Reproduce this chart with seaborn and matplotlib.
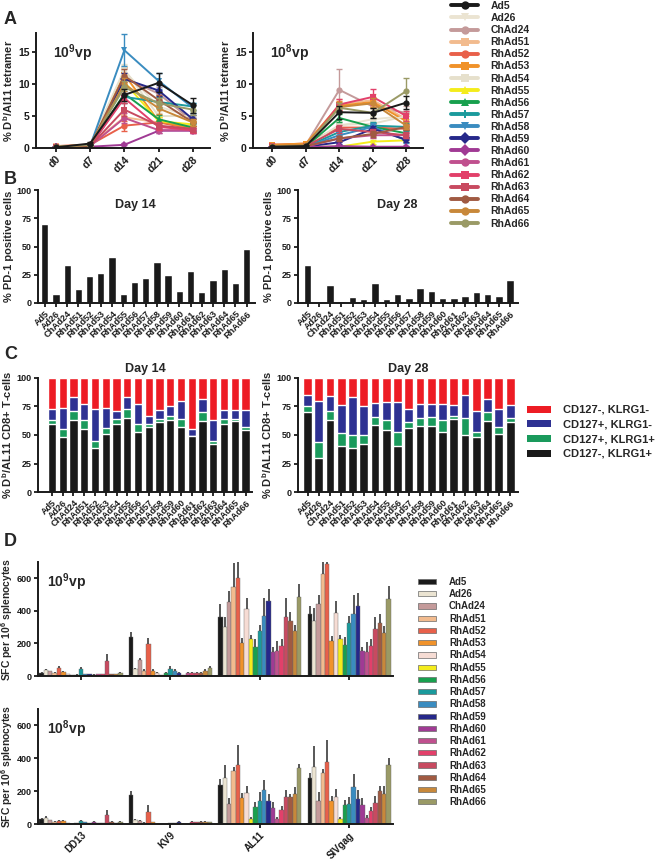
import numpy as np
import pandas as pd
import matplotlib
matplotlib.use("Agg")
import matplotlib.pyplot as plt
from matplotlib.lines import Line2D
from matplotlib.patches import Patch
import seaborn as sns

# ---------------- data ----------------
vectors = ["Ad5", "Ad26", "ChAd24", "RhAd51", "RhAd52", "RhAd53", "RhAd54", "RhAd55",
           "RhAd56", "RhAd57", "RhAd58", "RhAd59", "RhAd60", "RhAd61", "RhAd62",
           "RhAd63", "RhAd64", "RhAd65", "RhAd66"]
colors = ["#1a1a1a", "#ebe4d2", "#c49a9a", "#f2bb8e", "#e8604a", "#f0922a", "#e6e0cc",
          "#f4ec1c", "#18a04e", "#1a9a9c", "#3a8cc0", "#26288a", "#a03a94", "#c0508e",
          "#e2406a", "#c84a60", "#a05a42", "#c8883a", "#9a9a66"]
colors_d = list(colors)
colors_d[6] = "#f6dcd4"
markers = ["o", "v", "o", "s", "o", "s", "s", "^", "^", "P", "v", "D", "D", "o",
           "s", "s", "o", "o", "o"]
days = ["d0", "d7", "d14", "d21", "d28"]

# Panel A, 10^9 vp (% Db/Al11 tetramer), one list per day
hi_d0 = [0.1, 0.2, 0.2, 0.3, 0.3, 0.2, 0.2, 0.1, 0.1, 0.1, 0.1, 0.1, 0.1, 0.1, 0.1, 0.1, 0.1, 0.2, 0.2]
hi_d7 = [0.7, 0.5, 0.5, 0.5, 0.5, 0.5, 0.5, 0.3, 0.3, 0.3, 0.3, 0.3, 0.2, 0.3, 0.3, 0.3, 0.3, 0.5, 0.5]
hi_d14 = [8.3, 12.0, 11.0, 4.8, 3.5, 11.5, 12.3, 10.3, 8.5, 8.0, 15.3, 10.8, 0.5, 4.7, 7.8, 6.0, 11.3, 10.0, 9.5]
hi_d21 = [10.2, 6.5, 8.5, 4.0, 4.0, 4.2, 5.0, 4.2, 4.5, 7.2, 10.5, 9.0, 2.7, 2.8, 3.3, 3.5, 7.5, 6.2, 7.0]
hi_d28 = [6.7, 4.8, 4.2, 3.5, 3.0, 3.0, 5.0, 3.7, 3.2, 6.5, 6.3, 4.5, 2.7, 2.8, 2.8, 3.0, 4.0, 4.0, 6.0]
hi_e0 = [0.1, 0.1, 0.1, 0.1, 0.1, 0.1, 0.1, 0.1, 0.1, 0.1, 0.1, 0.1, 0.05, 0.05, 0.05, 0.05, 0.05, 0.1, 0.1]
hi_e7 = [0.2, 0.2, 0.2, 0.2, 0.2, 0.2, 0.2, 0.1, 0.1, 0.1, 0.1, 0.1, 0.05, 0.1, 0.1, 0.1, 0.1, 0.2, 0.2]
hi_e14 = [1.0, 1.0, 1.5, 1.0, 0.8, 1.2, 0.8, 1.0, 1.0, 1.0, 2.5, 1.0, 0.3, 0.8, 0.8, 1.0, 1.0, 1.0, 1.0]
hi_e21 = [1.5, 1.0, 1.0, 0.6, 0.6, 0.6, 0.8, 0.6, 0.6, 0.8, 1.3, 0.8, 0.4, 0.4, 0.5, 0.5, 0.8, 0.8, 0.8]
hi_e28 = [1.2, 0.8, 0.7, 0.5, 0.5, 0.5, 0.8, 0.5, 0.5, 0.6, 0.8, 0.6, 0.4, 0.4, 0.4, 0.5, 0.6, 0.6, 0.8]

# Panel A, 10^8 vp
lo_d0 = [0.2, 0.3, 0.5, 0.5, 0.5, 0.5, 0.3, 0.1, 0.1, 0.1, 0.1, 0.1, 0.1, 0.1, 0.3, 0.2, 0.2, 0.3, 0.2]
lo_d7 = [0.3, 0.3, 0.5, 0.5, 0.7, 0.7, 0.3, 0.2, 0.2, 0.2, 0.2, 0.2, 0.1, 0.2, 0.3, 0.3, 0.3, 0.5, 0.3]
lo_d14 = [5.6, 3.5, 9.1, 6.8, 3.2, 6.6, 3.6, 0.2, 4.7, 2.5, 2.0, 0.9, 0.3, 1.5, 6.8, 3.0, 1.5, 6.4, 6.3]
lo_d21 = [5.5, 4.5, 6.5, 7.5, 3.2, 7.2, 3.8, 1.0, 3.3, 3.5, 3.3, 3.0, 0.2, 2.0, 8.0, 2.5, 2.2, 7.0, 5.5]
lo_d28 = [7.1, 5.0, 5.5, 4.5, 3.0, 4.2, 5.0, 1.2, 2.3, 3.3, 1.2, 1.3, 0.2, 2.0, 5.0, 2.0, 3.3, 3.5, 8.9]
lo_e0 = [0.1, 0.1, 0.1, 0.1, 0.1, 0.1, 0.1, 0.05, 0.05, 0.05, 0.05, 0.05, 0.05, 0.05, 0.1, 0.1, 0.1, 0.1, 0.1]
lo_e7 = [0.1, 0.1, 0.2, 0.2, 0.2, 0.2, 0.1, 0.1, 0.1, 0.1, 0.1, 0.1, 0.05, 0.1, 0.1, 0.1, 0.1, 0.2, 0.1]
lo_e14 = [1.0, 0.6, 3.2, 0.8, 0.6, 0.8, 0.6, 0.1, 0.6, 0.5, 0.5, 0.3, 0.1, 0.4, 0.8, 0.6, 0.4, 0.8, 0.8]
lo_e21 = [0.8, 0.6, 1.0, 1.0, 0.6, 0.8, 0.6, 0.3, 0.6, 0.6, 0.6, 0.5, 0.1, 0.4, 1.2, 0.5, 0.4, 0.8, 0.8]
lo_e28 = [1.0, 0.8, 1.0, 0.8, 0.6, 0.8, 0.8, 0.3, 0.5, 0.6, 0.4, 0.4, 0.1, 0.4, 0.8, 0.5, 0.5, 0.6, 2.0]

# Panel B: % PD-1 positive cells
pd1_d14 = [70, 8, 34, 12, 24, 26.5, 40.5, 7.6, 19, 22, 36.5, 25, 10.5, 28, 9.7, 20.5, 30.5, 18, 48]
pd1_d28 = [34, 1, 15.5, 1.5, 5.5, 3.8, 18, 3.8, 8, 4, 13.5, 10.5, 4.7, 4, 6, 9.6, 8, 6.4, 20]

# Panel C: phenotype segments (%)
blk_d14 = [60, 48, 63, 55, 39, 51, 60, 65, 53, 57, 61, 63, 57, 49, 62, 42, 60, 62, 54]
grn_d14 = [3, 7, 8, 8, 6, 5, 4, 8, 7, 3, 3, 4, 7, 0.5, 8, 3, 4, 2, 3]
blu_d14 = [10, 19, 12, 14, 28, 18, 7, 10, 17, 7, 8, 8, 16, 6, 12, 18, 8, 8, 15]
red_d14 = [27, 26, 17, 23, 27, 26, 29, 17, 23, 33, 28, 25, 20, 44.5, 18, 37, 28, 28, 28]
blk_d28 = [70, 30, 63, 40, 39, 42, 59, 54, 40, 56, 58, 58, 53, 64, 50, 48, 62, 51, 61]
grn_d28 = [5, 14, 8, 12, 11, 8, 7, 9, 13, 5, 7, 8, 10, 3, 15, 5, 8, 6, 4]
blu_d28 = [10, 36, 13, 24, 33, 25, 12, 16, 26, 12, 12, 11, 14, 9, 20, 18, 12, 16, 11]
red_d28 = [15, 20, 16, 24, 17, 25, 22, 21, 21, 27, 23, 23, 23, 24, 15, 29, 18, 27, 24]
pheno_labels = ["CD127-, KLRG1-", "CD127+, KLRG1-", "CD127+, KLRG1+", "CD127-, KLRG1+"]
pheno_colors = ["#ed1c24", "#2e3192", "#1a9a5c", "#1a1a1a"]

# Panel D: SFC per 10^6 splenocytes
antigens = ["DD13", "KV9", "AL11", "SIVgag"]
hi_DD13 = [20, 38, 28, 20, 48, 25, 12, 5, 8, 45, 10, 10, 8, 12, 10, 95, 12, 12, 18]
hi_KV9 = [238, 42, 100, 30, 195, 32, 18, 5, 20, 45, 32, 20, 5, 18, 18, 20, 20, 30, 48]
hi_AL11 = [365, 300, 455, 545, 600, 205, 410, 225, 180, 278, 368, 462, 148, 155, 182, 362, 335, 278, 485]
hi_SIV = [378, 340, 440, 628, 690, 215, 385, 225, 188, 325, 378, 428, 152, 150, 185, 290, 325, 265, 475]
hi_DD13_e = [5, 8, 5, 5, 12, 5, 3, 2, 3, 10, 3, 3, 3, 3, 3, 40, 3, 3, 5]
hi_KV9_e = [35, 10, 12, 10, 40, 8, 5, 2, 5, 15, 8, 5, 2, 5, 5, 5, 5, 10, 15]
hi_AL11_e = [80, 60, 70, 150, 120, 30, 70, 25, 50, 35, 110, 75, 30, 60, 45, 120, 60, 35, 80]
hi_SIV_e = [50, 80, 60, 80, 30, 30, 75, 25, 50, 45, 120, 80, 25, 60, 40, 70, 55, 40, 80]
lo_DD13 = [30, 38, 22, 15, 20, 18, 5, 2, 5, 18, 10, 5, 12, 5, 5, 55, 15, 5, 15]
lo_KV9 = [175, 25, 18, 8, 75, 12, 2, 2, 2, 5, 5, 15, 2, 2, 15, 12, 15, 15, 12]
lo_AL11 = [238, 280, 120, 322, 358, 160, 190, 30, 105, 140, 205, 140, 98, 30, 85, 162, 165, 185, 338]
lo_SIV = [278, 348, 142, 310, 375, 140, 165, 32, 115, 122, 228, 155, 118, 35, 78, 128, 200, 185, 362]
lo_DD13_e = [5, 12, 5, 3, 5, 5, 2, 1, 2, 5, 3, 2, 5, 2, 2, 30, 5, 2, 5]
lo_KV9_e = [25, 8, 5, 3, 40, 3, 1, 1, 1, 2, 2, 5, 1, 1, 5, 3, 3, 3, 3]
lo_AL11_e = [35, 80, 40, 25, 125, 30, 40, 10, 30, 55, 65, 45, 35, 15, 25, 45, 20, 40, 30]
lo_SIV_e = [30, 125, 50, 25, 135, 30, 50, 12, 30, 45, 75, 55, 40, 20, 25, 40, 30, 45, 40]

# ---------------- style ----------------
sns.set_style("ticks")
plt.rcParams["font.family"] = ["Liberation Sans", "DejaVu Sans"]
plt.rcParams["font.weight"] = "bold"
plt.rcParams["axes.labelweight"] = "bold"
plt.rcParams["mathtext.fontset"] = "custom"
plt.rcParams["mathtext.bf"] = "Liberation Sans:bold"
plt.rcParams["mathtext.rm"] = "Liberation Sans:bold"
plt.rcParams["mathtext.default"] = "bf"

W, H = 660, 861
fig = plt.figure(figsize=(6.6, 8.61), dpi=100)


def ax_px(x0, x1, y0, y1):
    return fig.add_axes([x0 / W, 1 - y1 / H, (x1 - x0) / W, (y1 - y0) / H])


def style(ax, lsize=7):
    for s in ["top", "right"]:
        ax.spines[s].set_visible(False)
    for s in ["left", "bottom"]:
        ax.spines[s].set_linewidth(1.4)
        ax.spines[s].set_color("#1a1a1a")
    ax.tick_params(width=1.3, length=3, labelsize=lsize, colors="#1a1a1a", pad=1.5)
    for t in ax.get_xticklabels() + ax.get_yticklabels():
        t.set_fontweight("bold")


# ---------------- Panel A ----------------
def panel_a(ax, vals, errs, label):
    order = list(range(1, len(vectors))) + [0]
    pos = np.arange(len(days))
    for i in order:
        y = [v[i] for v in vals]
        e = [v[i] for v in errs]
        z = 5 if i == 0 else 2
        ax.errorbar(pos, y, yerr=e, fmt="none", ecolor=colors[i], elinewidth=1.0,
                    capsize=2, capthick=1.0, zorder=z)
        sns.lineplot(x=pos, y=y, color=colors[i], marker=markers[i], markersize=4.5,
                     markeredgewidth=0, linewidth=1.4, ax=ax, zorder=z)
    ax.set_xlim(-0.58, 4.5)
    ax.set_ylim(0, 18)
    ax.set_yticks([0, 5, 10, 15])
    ax.set_xticks(pos)
    ax.set_xticklabels(days, rotation=45, ha="right", rotation_mode="anchor")
    ax.set_ylabel("% D$^b$/Al11 tetramer", fontsize=8, labelpad=2)
    ax.text(0.1, 0.92, label, transform=ax.transAxes, fontsize=10, fontweight="bold",
            va="top")
    style(ax, 7.5)


axA1 = ax_px(36, 210, 33, 148)
panel_a(axA1, [hi_d0, hi_d7, hi_d14, hi_d21, hi_d28],
        [hi_e0, hi_e7, hi_e14, hi_e21, hi_e28], "10$^9$vp")
axA2 = ax_px(253, 423, 33, 148)
panel_a(axA2, [lo_d0, lo_d7, lo_d14, lo_d21, lo_d28],
        [lo_e0, lo_e7, lo_e14, lo_e21, lo_e28], "10$^8$vp")

handlesA = [Line2D([0], [0], color=c, marker=m, lw=2.8, markersize=6, markeredgewidth=0)
            for c, m in zip(colors, markers)]
fig.legend(handlesA, vectors, loc="upper left", bbox_to_anchor=(450 / W, 1 - 0 / H),
           frameon=False, fontsize=7.5, handlelength=2.6, labelspacing=0.2,
           handletextpad=1.2, borderaxespad=0, borderpad=0.1)

# ---------------- Panel B ----------------
def panel_b(ax, vals, title, xl):
    sns.barplot(x=vectors, y=vals, color="#1a1a1a", saturation=1, width=0.65, ax=ax)
    ax.set_xlim(*xl)
    ax.set_ylim(0, 100)
    ax.set_yticks([0, 25, 50, 75, 100])
    ax.set_xticks(range(len(vectors)))
    ax.set_xticklabels(vectors, rotation=45, ha="right", rotation_mode="anchor")
    ax.set_ylabel("% PD-1 positive cells", fontsize=8, labelpad=2)
    ax.text(0.45, 0.92, title, transform=ax.transAxes, fontsize=9, fontweight="bold",
            ha="center", va="top")
    style(ax, 6.5)


axB1 = ax_px(38, 255, 190, 303)
panel_b(axB1, pd1_d14, "Day 14", (-0.6, 18.75))
axB2 = ax_px(298, 518, 190, 303)
panel_b(axB2, pd1_d28, "Day 28", (-0.85, 18.7))

# ---------------- Panel C ----------------
def panel_c(ax, blk, grn, blu, red, title, xl):
    s1 = np.array(blk, float)
    s2 = s1 + np.array(grn, float)
    s3 = s2 + np.array(blu, float)
    s4 = s3 + np.array(red, float)
    for tops, col in zip([s4, s3, s2, s1], pheno_colors):
        sns.barplot(x=vectors, y=tops, color=col, saturation=1, width=0.78, ax=ax)
    ax.set_xlim(*xl)
    ax.set_ylim(0, 100)
    ax.set_yticks([0, 25, 50, 75, 100])
    ax.set_xticks(range(len(vectors)))
    ax.set_xticklabels(vectors, rotation=45, ha="right", rotation_mode="anchor")
    ax.set_ylabel("% D$^b$/AL11 CD8+ T-cells", fontsize=8, labelpad=2)
    ax.set_title(title, fontsize=9, fontweight="bold", pad=4)
    style(ax, 6.5)


axC1 = ax_px(38, 252, 378, 492)
panel_c(axC1, blk_d14, grn_d14, blu_d14, red_d14, "Day 14", (-1.3, 18.6))
axC2 = ax_px(298, 518, 378, 492)
panel_c(axC2, blk_d28, grn_d28, blu_d28, red_d28, "Day 28", (-0.85, 18.7))

handlesC = [Patch(facecolor=c, edgecolor="none") for c in pheno_colors]
fig.legend(handlesC, pheno_labels, loc="upper left", bbox_to_anchor=(527 / W, 1 - 405 / H),
           frameon=False, fontsize=8, handlelength=2.2, handleheight=0.6,
           labelspacing=0.42, handletextpad=1.0, borderaxespad=0, borderpad=0)

# ---------------- Panel D ----------------
def panel_d(ax, series, errs, label, show_labels):
    rows = []
    for a, vals in zip(antigens, series):
        for v, val in zip(vectors, vals):
            rows.append({"antigen": a, "vector": v, "sfc": val})
    df = pd.DataFrame(rows)
    sns.barplot(data=df, x="antigen", y="sfc", hue="vector", hue_order=vectors,
                order=antigens, palette=colors_d, saturation=1, width=0.93,
                errorbar=None, legend=False, edgecolor="#6a6a6a", linewidth=0.3, ax=ax)
    bar_groups = list(ax.containers)
    for i, cont in enumerate(bar_groups):
        xs = [b.get_x() + b.get_width() / 2 for b in cont.patches]
        hs = [b.get_height() for b in cont.patches]
        up = [errs[j][i] for j in range(len(antigens))]
        ax.errorbar(xs, hs, yerr=[np.zeros(len(up)), up], fmt="none",
                    ecolor="#2a2a2a", elinewidth=1.1, capsize=0, zorder=3)
    ax.set_xlim(-0.48, 3.49)
    ax.set_ylim(0, 700)
    ax.set_yticks([0, 200, 400, 600])
    ax.set_xticks(range(len(antigens)))
    if show_labels:
        ax.set_xticklabels(antigens, rotation=45, ha="right", rotation_mode="anchor")
    else:
        ax.set_xticklabels([])
    ax.set_xlabel("")
    ax.set_ylabel("SFC per 10$^6$ splenocytes", fontsize=7.5, labelpad=1)
    ax.text(0.025, 0.92, label, transform=ax.transAxes, fontsize=10, fontweight="bold",
            va="top")
    style(ax, 6.5)
    ax.tick_params(axis="x", labelsize=7)


axD1 = ax_px(38, 393, 562, 676)
panel_d(axD1, [hi_DD13, hi_KV9, hi_AL11, hi_SIV],
        [hi_DD13_e, hi_KV9_e, hi_AL11_e, hi_SIV_e], "10$^9$vp", False)
axD2 = ax_px(38, 393, 709, 824)
panel_d(axD2, [lo_DD13, lo_KV9, lo_AL11, lo_SIV],
        [lo_DD13_e, lo_KV9_e, lo_AL11_e, lo_SIV_e], "10$^8$vp", True)

handlesD = [Patch(facecolor=c, edgecolor="#6a6a6a", linewidth=0.5) for c in colors_d]
fig.legend(handlesD, vectors, loc="upper left", bbox_to_anchor=(418 / W, 1 - 577 / H),
           frameon=False, fontsize=7, handlelength=1.9, handleheight=0.45,
           labelspacing=0.23, handletextpad=1.3, borderaxespad=0, borderpad=0)

# panel letters
for letter, (x, y) in zip("ABCD", [(4, 11), (4, 171), (4, 346), (4, 533)]):
    fig.text(x / W, 1 - y / H, letter, fontsize=13, fontweight="bold", va="top", ha="left")

fig.savefig("out.png", dpi=100)
